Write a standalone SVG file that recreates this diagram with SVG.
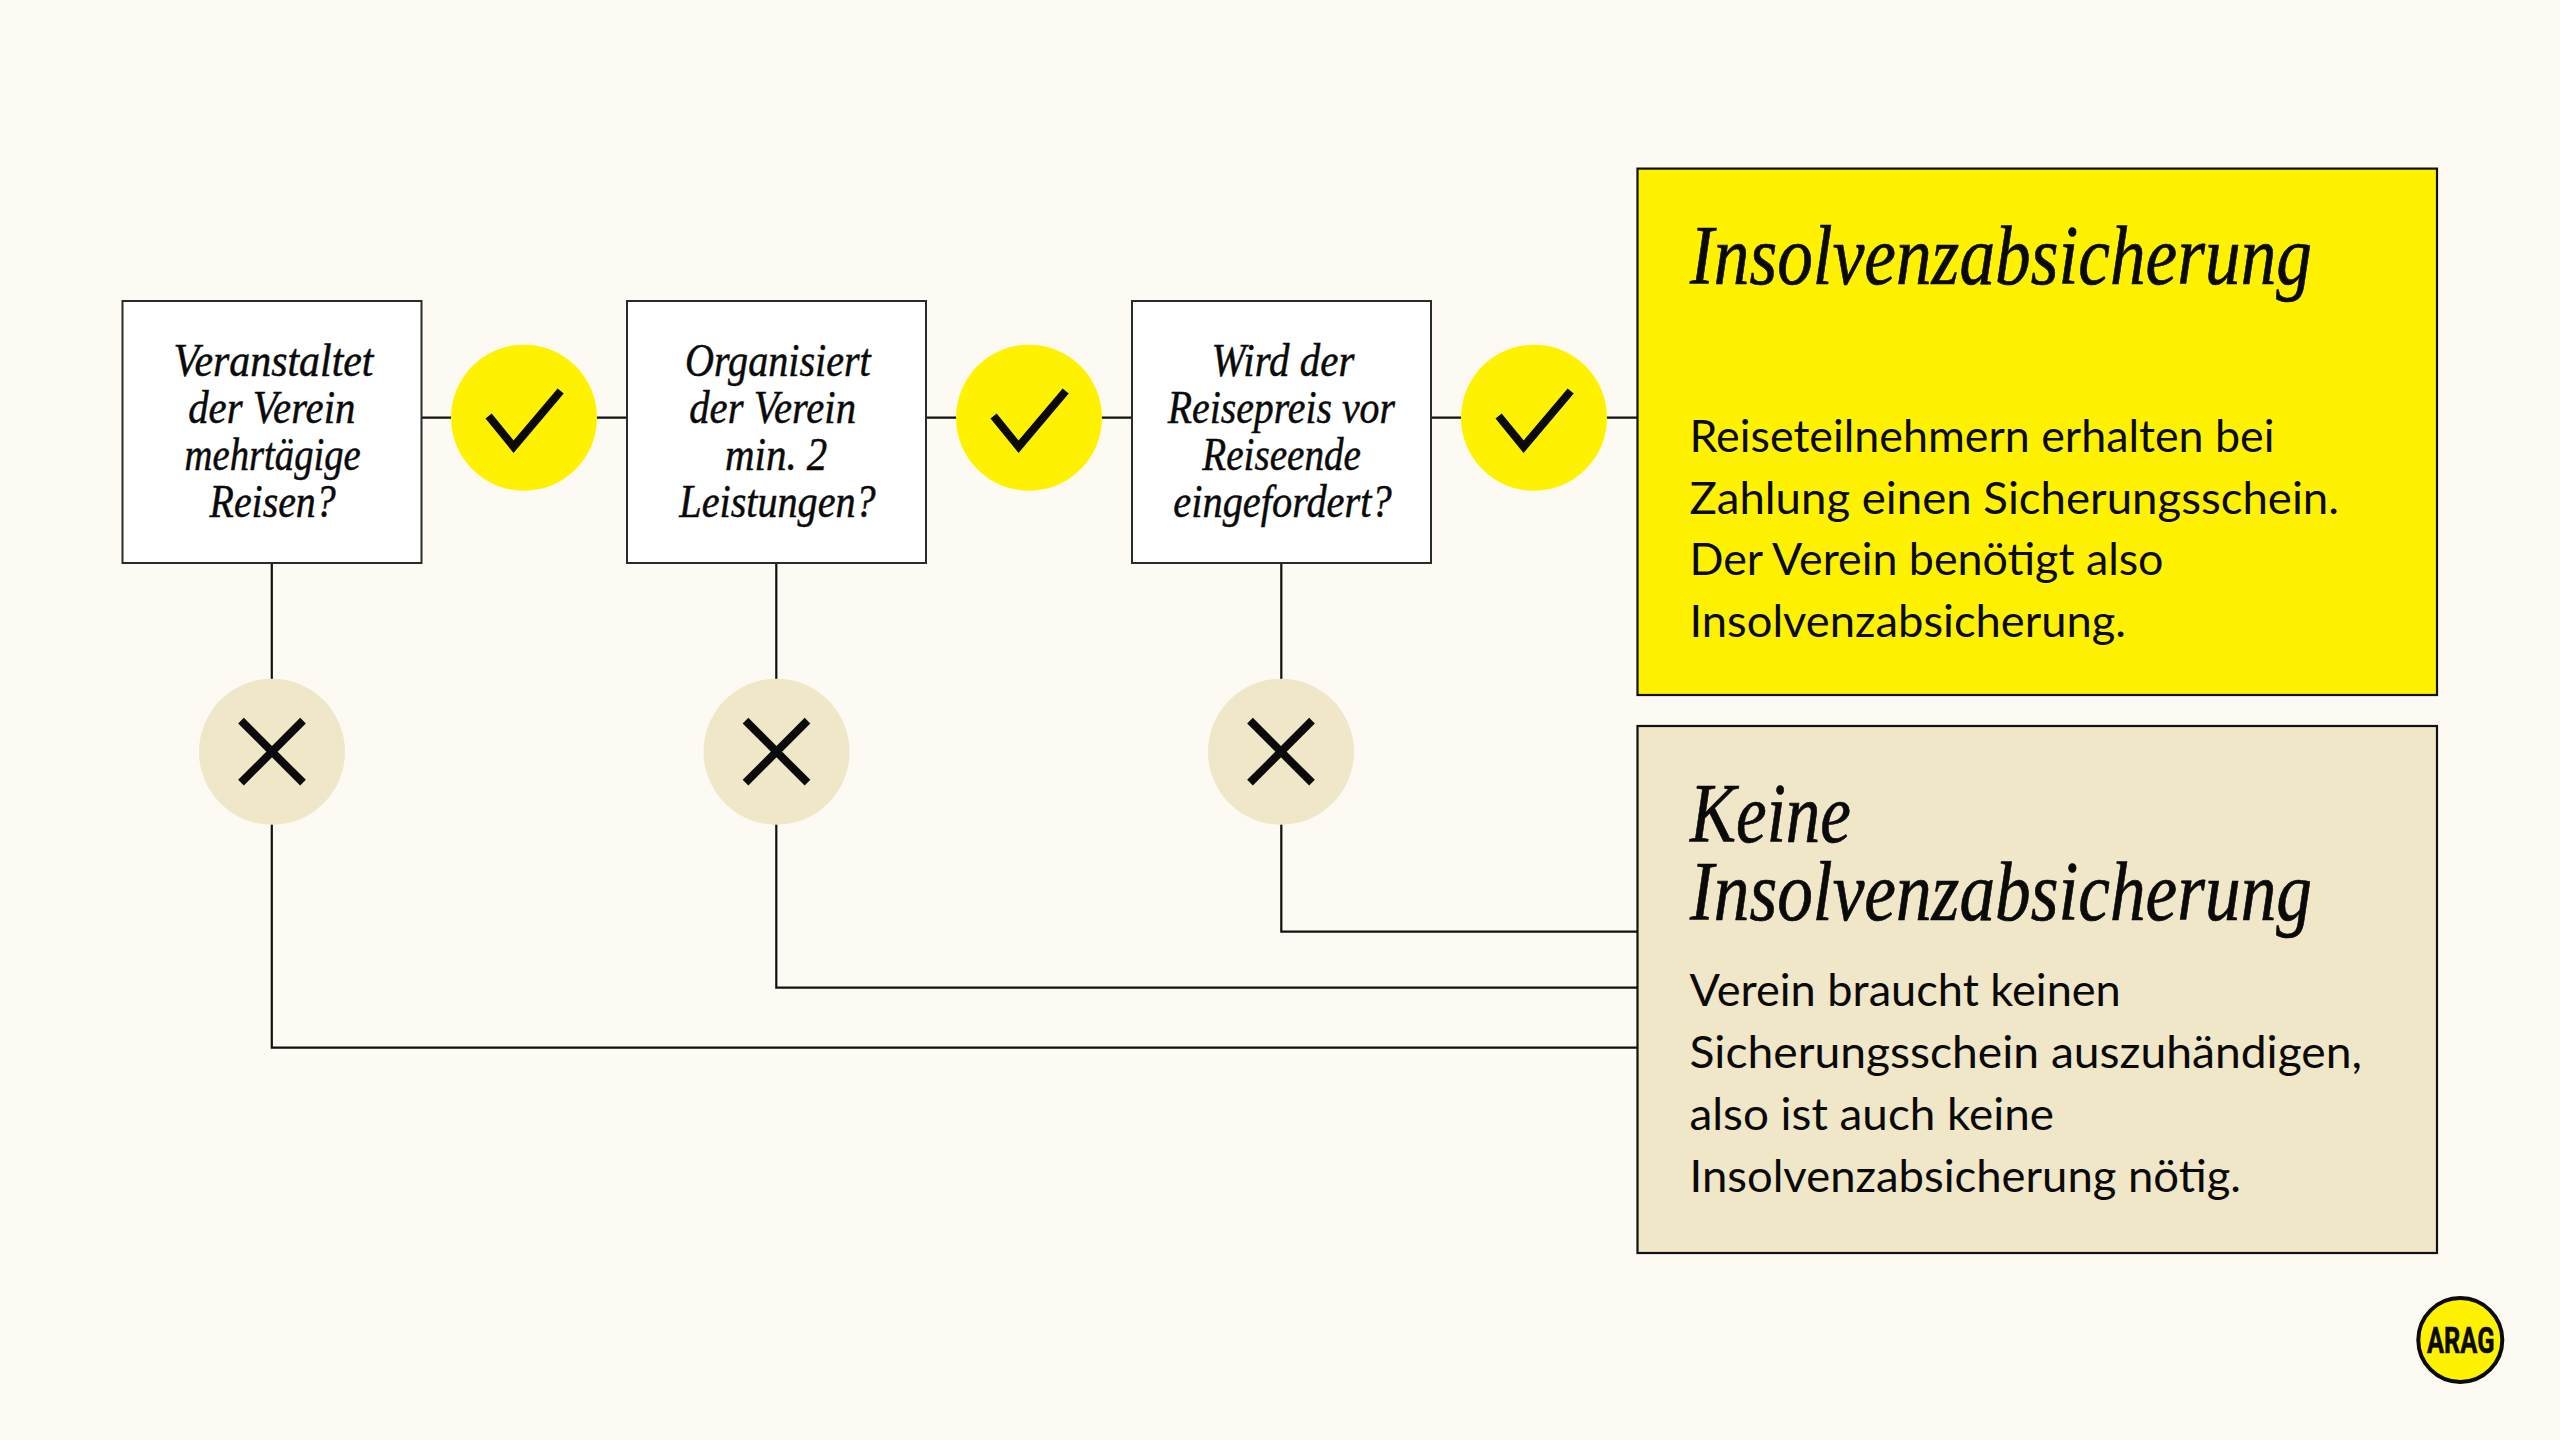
<svg xmlns="http://www.w3.org/2000/svg" width="2560" height="1440" viewBox="0 0 2560 1440">
<defs>
<style>
.bg{fill:#FDFAF3}
.conn{fill:none;stroke:#111;stroke-width:2.2}
.q{fill:#fff;stroke:#2a2a2a;stroke-width:2}
.yes{fill:#FFF200}
.no{fill:#F0E6C8}
.mark{fill:none;stroke:#0a0a0a;stroke-width:8}
.ql{font-family:"Liberation Serif",serif;font-style:italic;font-size:46px;fill:#0a0a0a;stroke:#0a0a0a;stroke-width:.5}
.title{font-family:"Liberation Serif",serif;font-style:italic;font-size:84px;fill:#0a0a0a;stroke:#0a0a0a;stroke-width:.7}
.body{font-family:Lato,"Liberation Sans",sans-serif;font-size:44px;fill:#0a0a0a}
.res{stroke:#111;stroke-width:2.2}
.logo{font-family:Roboto,"Liberation Sans",sans-serif;font-weight:700;font-size:36px;fill:#0a0a0a;stroke:#0a0a0a;stroke-width:.6}
</style>
<path id="tick" class="mark" d="M-35.4-1.7-10.4 29 36.7-26.7"/>
<path id="cross" class="mark" d="M-31-31 31 31M-31 31 31-31"/>
</defs>
<rect class="bg" width="2560" height="1440"/>
<g id="connectors">
<path class="conn" d="M421 417.7H627M926 417.7H1132M1431 417.7H1637"/>
<path class="conn" d="M271.8 563V1047.7H1637"/>
<path class="conn" d="M776.3 563V987.7H1637"/>
<path class="conn" d="M1281.3 563V931.7H1637"/>
</g>
<g id="q1">
<rect class="q" x="122.5" y="301" width="299" height="262"/>
<text class="ql" x="173.5" y="376" textLength="200" lengthAdjust="spacingAndGlyphs">Veranstaltet</text>
<text class="ql" x="188.2" y="423.3" textLength="167.2" lengthAdjust="spacingAndGlyphs">der Verein</text>
<text class="ql" x="184.6" y="470" textLength="176.1" lengthAdjust="spacingAndGlyphs">mehrtägige</text>
<text class="ql" x="209.6" y="517.3" textLength="126.1" lengthAdjust="spacingAndGlyphs">Reisen?</text>
</g>
<g id="q2">
<rect class="q" x="627" y="301" width="299" height="262"/>
<text class="ql" x="685" y="376" textLength="185.7" lengthAdjust="spacingAndGlyphs">Organisiert</text>
<text class="ql" x="689.3" y="423.3" textLength="166.7" lengthAdjust="spacingAndGlyphs">der Verein</text>
<text class="ql" x="725" y="470" textLength="102.3" lengthAdjust="spacingAndGlyphs">min. 2</text>
<text class="ql" x="679.3" y="517.3" textLength="196.4" lengthAdjust="spacingAndGlyphs">Leistungen?</text>
</g>
<g id="q3">
<rect class="q" x="1132" y="301" width="299" height="262"/>
<text class="ql" x="1211.5" y="376" textLength="142.8" lengthAdjust="spacingAndGlyphs">Wird der</text>
<text class="ql" x="1167.7" y="423.3" textLength="227.3" lengthAdjust="spacingAndGlyphs">Reisepreis vor</text>
<text class="ql" x="1202.3" y="470" textLength="158.7" lengthAdjust="spacingAndGlyphs">Reiseende</text>
<text class="ql" x="1173.3" y="517.3" textLength="218.4" lengthAdjust="spacingAndGlyphs">eingefordert?</text>
</g>
<g id="yes1"><circle class="yes" cx="524" cy="417.7" r="73"/><use href="#tick" x="524" y="417.7"/></g>
<g id="yes2"><circle class="yes" cx="1029" cy="417.7" r="73"/><use href="#tick" x="1029" y="417.7"/></g>
<g id="yes3"><circle class="yes" cx="1534" cy="417.7" r="73"/><use href="#tick" x="1534" y="417.7"/></g>
<g id="no1"><circle class="no" cx="272" cy="751.7" r="73"/><use href="#cross" x="272" y="751.7"/></g>
<g id="no2"><circle class="no" cx="776.5" cy="751.7" r="73"/><use href="#cross" x="776.5" y="751.7"/></g>
<g id="no3"><circle class="no" cx="1281" cy="751.7" r="73"/><use href="#cross" x="1281" y="751.7"/></g>
<g id="result-yes">
<rect class="yes res" x="1637.5" y="168.6" width="799.5" height="526.4"/>
<text class="title" x="1690" y="284" textLength="622" lengthAdjust="spacingAndGlyphs">Insolvenzabsicherung</text>
<text class="body" x="1689.5" y="452" textLength="585" lengthAdjust="spacingAndGlyphs">Reiseteilnehmern erhalten bei</text>
<text class="body" x="1689.5" y="513.7" textLength="649.5" lengthAdjust="spacingAndGlyphs">Zahlung einen Sicherungsschein.</text>
<text class="body" x="1689.5" y="575.4" textLength="474" lengthAdjust="spacingAndGlyphs">Der Verein benötigt also</text>
<text class="body" x="1689.5" y="637.4" textLength="436.5" lengthAdjust="spacingAndGlyphs">Insolvenzabsicherung.</text>
</g>
<g id="result-no">
<rect class="no res" x="1637.5" y="726" width="799.5" height="527"/>
<text class="title"><tspan x="1690" y="842" textLength="161" lengthAdjust="spacingAndGlyphs">Keine</tspan><tspan x="1690" y="920" textLength="622" lengthAdjust="spacingAndGlyphs">Insolvenzabsicherung</tspan></text>
<text class="body" x="1689.5" y="1005.6" textLength="431.3" lengthAdjust="spacingAndGlyphs">Verein braucht keinen</text>
<text class="body" x="1689.5" y="1067.5" textLength="672.5" lengthAdjust="spacingAndGlyphs">Sicherungsschein auszuhändigen,</text>
<text class="body" x="1689.5" y="1129.6" textLength="364.5" lengthAdjust="spacingAndGlyphs">also ist auch keine</text>
<text class="body" x="1689.5" y="1191.7" textLength="551.5" lengthAdjust="spacingAndGlyphs">Insolvenzabsicherung nötig.</text>
</g>
<g id="logo">
<circle cx="2460.3" cy="1340" r="42" fill="#FFF200" stroke="#0a0a0a" stroke-width="4"/>
<text class="logo" x="2427" y="1352.7" textLength="67.5" lengthAdjust="spacingAndGlyphs">ARAG</text>
</g>
</svg>
